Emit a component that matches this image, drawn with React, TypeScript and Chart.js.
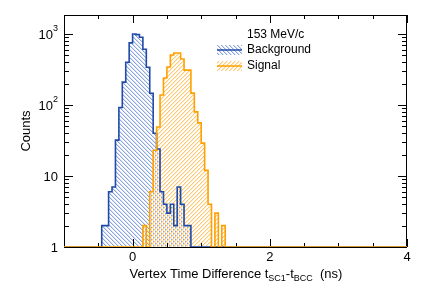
import React, { useEffect, useRef } from "react";
import { Chart, registerables } from "chart.js";

Chart.register(...registerables);

// ---- data ----
const BIN_WIDTH = 0.05;
const X_MIN = -1;
const X_MAX = 4;
const Y_MIN = 1;
const Y_MAX = 1850;

const bgStart = -0.45;
const bgCounts = [2, 2, 6, 7, 32, 92, 210, 400, 750, 1000, 980, 900, 610, 340, 146, 40, 24, 6, 4, 3, 4, 2, 7, 4, 2, 2];

const sigStart = 0.15;
const sigCounts = [2, 0, 6, 23, 49, 138, 240, 343, 506, 540, 540, 445, 310, 310, 147, 80, 56, 29, 12, 4, 0, 3, 0, 2];

const seriesNames = ["Background", "Signal"];
const legendTitle = "153 MeV/c";
const xTickValues = [0, 2, 4];
const xTickLabels = ["0", "2", "4"];
const yTickValues = [1, 10, 100, 1000];
const yTickBase = ["1", "10", "10", "10"];
const yTickExp = ["", "", "2", "3"];
const yTitle = "Counts";
const xTitleParts: [string, boolean][] = [
  ["Vertex Time Difference t", false],
  ["SC1", true],
  ["-t", false],
  ["BCC", true],
  ["  (ns)", false],
];

const BLUE = "#1f4aa8";
const ORANGE = "#ffa000";
const FONT = "'Liberation Sans', Arial, Helvetica, sans-serif";

function histPoints(start: number, counts: number[]) {
  const nBins = Math.round((X_MAX - X_MIN) / BIN_WIDTH);
  const pts: { x: number; y: number }[] = [];
  for (let i = 0; i < nBins; i++) {
    const lo = X_MIN + i * BIN_WIDTH;
    const k = Math.round((lo - start) / BIN_WIDTH);
    const c = k >= 0 && k < counts.length ? counts[k] : 0;
    pts.push({ x: lo, y: Math.max(c, Y_MIN) });
  }
  pts.push({ x: X_MAX, y: Y_MIN });
  return pts;
}

function hatch(strong: string, soft: string, dir: 1 | -1) {
  const s = 4;
  const c = document.createElement("canvas");
  c.width = s;
  c.height = s;
  const g = c.getContext("2d")!;
  for (let i = 0; i < s; i++) {
    const x = dir === 1 ? i : s - 1 - i;
    g.fillStyle = strong;
    g.fillRect(x, i, 1, 1);
    g.fillStyle = soft;
    g.fillRect((x + 1) % s, i, 1, 1);
  }
  return g.createPattern(c, "repeat")!;
}

const framePlugin = {
  id: "rootFrame",
  beforeDatasetsDraw(chart: any) {
    const { ctx, chartArea: a, scales } = chart;
    const xs = scales.x;
    const ys = scales.y;
    ctx.save();
    ctx.strokeStyle = "#000";
    ctx.lineWidth = 1;
    ctx.strokeRect(a.left + 0.5, a.top + 0.5, a.right - a.left - 1, a.bottom - a.top);
    ctx.beginPath();
    for (let k = 0; k <= (X_MAX - X_MIN) / 0.5; k++) {
      const v = X_MIN + k * 0.5;
      const px = Math.round(xs.getPixelForValue(v)) + 0.5;
      const major = Math.abs(v / 2 - Math.round(v / 2)) < 1e-6;
      const len = major ? 8 : 4;
      ctx.moveTo(px, a.bottom);
      ctx.lineTo(px, a.bottom - len);
      ctx.moveTo(px, a.top);
      ctx.lineTo(px, a.top + len);
    }
    for (let dec = 1; dec <= 1000; dec *= 10) {
      for (let m = 1; m <= 9; m++) {
        const v = dec * m;
        if (v < Y_MIN || v > Y_MAX) continue;
        const py = Math.round(ys.getPixelForValue(v)) + 0.5;
        const len = m === 1 ? 9 : 5;
        ctx.moveTo(a.left, py);
        ctx.lineTo(a.left + len, py);
        ctx.moveTo(a.right, py);
        ctx.lineTo(a.right - len, py);
      }
    }
    ctx.stroke();
    ctx.restore();
  },
  afterDraw(chart: any) {
    const { ctx, chartArea: a, scales } = chart;
    const xs = scales.x;
    const ys = scales.y;
    ctx.save();
    ctx.fillStyle = "#000";
    ctx.font = `13px ${FONT}`;
    ctx.textAlign = "center";
    ctx.textBaseline = "middle";
    xTickValues.forEach((v, i) => {
      ctx.fillText(xTickLabels[i], xs.getPixelForValue(v), a.bottom + 10);
    });
    yTickValues.forEach((v, i) => {
      const py = ys.getPixelForValue(v);
      ctx.font = `13px ${FONT}`;
      ctx.textAlign = "left";
      ctx.textBaseline = "middle";
      const base = yTickBase[i];
      const exp = yTickExp[i];
      const wb = ctx.measureText(base).width;
      ctx.font = `9px ${FONT}`;
      const we = exp ? ctx.measureText(exp).width : 0;
      const right = a.left - 6;
      const x0 = right - wb - we;
      ctx.font = `13px ${FONT}`;
      ctx.fillText(base, x0, py + 1);
      if (exp) {
        ctx.font = `9px ${FONT}`;
        ctx.fillText(exp, x0 + wb, py - 5);
      }
    });
    ctx.save();
    ctx.translate(26, (a.top + a.bottom) / 2);
    ctx.rotate(-Math.PI / 2);
    ctx.font = `13px ${FONT}`;
    ctx.textAlign = "center";
    ctx.textBaseline = "middle";
    ctx.fillText(yTitle, 0, 0);
    ctx.restore();
    ctx.textAlign = "left";
    ctx.textBaseline = "alphabetic";
    let total = 0;
    xTitleParts.forEach(([t, sub]) => {
      ctx.font = sub ? `9px ${FONT}` : `13px ${FONT}`;
      total += ctx.measureText(t).width;
    });
    let x = 236 - total / 2;
    const base = 278;
    xTitleParts.forEach(([t, sub]) => {
      ctx.font = sub ? `9px ${FONT}` : `13px ${FONT}`;
      ctx.fillText(t, x, sub ? base + 3 : base);
      x += ctx.measureText(t).width;
    });
    const lx = 217;
    const tx = 247;
    ctx.font = `12px ${FONT}`;
    ctx.textBaseline = "middle";
    ctx.fillText(legendTitle, tx, 35);
    const patterns = [chart.$bgPat, chart.$sigPat];
    const cols = [BLUE, ORANGE];
    seriesNames.forEach((name, i) => {
      const cy = 50 + i * 16;
      ctx.fillStyle = patterns[i];
      ctx.fillRect(lx, cy - 5, 25, 10);
      ctx.strokeStyle = cols[i];
      ctx.lineWidth = 1.5;
      ctx.beginPath();
      ctx.moveTo(lx, cy);
      ctx.lineTo(lx + 25, cy);
      ctx.stroke();
      ctx.fillStyle = "#000";
      ctx.fillText(name, tx, cy);
    });
    ctx.restore();
  },
};

export default function App() {
  const ref = useRef<HTMLCanvasElement | null>(null);
  useEffect(() => {
    const canvas = ref.current!;
    const bgPat = hatch("rgb(140,165,220)", "rgb(215,224,244)", 1);
    const sigPat = hatch("rgb(255,200,115)", "rgb(255,234,200)", -1);
    const chart = new Chart(canvas, {
      type: "line",
      data: {
        datasets: [
          {
            label: seriesNames[0],
            data: histPoints(bgStart, bgCounts),
            borderColor: BLUE,
            backgroundColor: bgPat,
            borderWidth: 1.6,
            stepped: true,
            fill: "start",
            pointRadius: 0,
            order: 1,
          },
          {
            label: seriesNames[1],
            data: histPoints(sigStart, sigCounts),
            borderColor: ORANGE,
            backgroundColor: sigPat,
            borderWidth: 1.6,
            stepped: true,
            fill: "start",
            pointRadius: 0,
            order: 0,
          },
        ],
      },
      options: {
        responsive: false,
        animation: false,
        layout: { padding: { left: 64, right: 22, top: 15, bottom: 45 } },
        plugins: {
          legend: { display: false },
          tooltip: { enabled: false },
          filler: { drawTime: "beforeDatasetsDraw" },
        },
        scales: {
          x: { type: "linear", min: X_MIN, max: X_MAX, display: false },
          y: { type: "logarithmic", min: Y_MIN, max: Y_MAX, display: false },
        },
      },
      plugins: [framePlugin],
    } as any);
    (chart as any).$bgPat = bgPat;
    (chart as any).$sigPat = sigPat;
    chart.draw();
    return () => chart.destroy();
  }, []);
  return (
    <div style={{ position: "absolute", left: 0, top: 0, width: 429, height: 292, background: "#fff" }}>
      <canvas ref={ref} width={429} height={292} />
    </div>
  );
}
